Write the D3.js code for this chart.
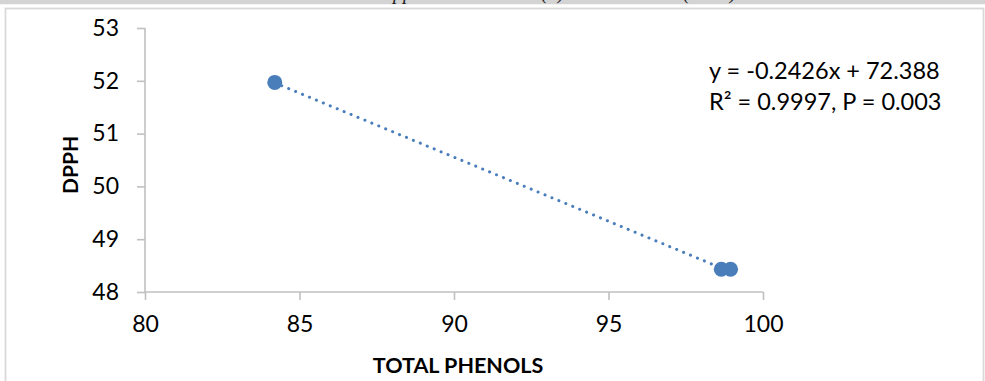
<!DOCTYPE html>
<html><head><meta charset="utf-8">
<script src="https://cdn.jsdelivr.net/npm/d3@7"></script>
<style>body{margin:0;background:#fff;}svg{display:block;}</style>
</head><body>
<svg id="c" width="985" height="381"></svg>
<script>
const totalPhenols = [84.2, 98.65, 98.95];
const dpph = [51.97, 48.43, 48.43];
const xTicks = [80, 85, 90, 95, 100];
const yTicks = [48, 49, 50, 51, 52, 53];
const slope = -0.2426, intercept = 72.388;
const eqLines = ["y = -0.2426x + 72.388", "R\u00b2 = 0.9997, P = 0.003"];
const topFragments = [["pp", 393], ["(a)", 541], ["(2019)", 683]];

const svg = d3.select("#c");
const col = "#4a7ebb", axisCol = "#c0c0c0", font = "Lato, 'Open Sans', sans-serif";

// header band & frame
svg.append("rect").attr("x",0).attr("y",0).attr("width",985).attr("height",4.5).attr("fill","#d4d4d4");
topFragments.forEach(([t,x]) => svg.append("text").attr("x",x).attr("y",-1.5)
  .attr("font-family","'Liberation Serif', serif").attr("font-style","italic").attr("font-size",20)
  .attr("fill","#222").text(t));
svg.append("rect").attr("x",0).attr("y",4.5).attr("width",985).attr("height",3).attr("fill","#fff");
svg.append("rect").attr("x",5.5).attr("y",8.5).attr("width",978).attr("height",380)
  .attr("fill","#fff").attr("stroke","#d9d9d9").attr("stroke-width",1.8);

const x = d3.scaleLinear().domain([80,100]).range([145,763]);
const y = d3.scaleLinear().domain([48,53]).range([292,28]);

const xAxis = svg.append("g").attr("transform","translate(0,292)")
  .call(d3.axisBottom(x).tickValues(xTicks).tickFormat(d3.format("d")).tickSize(8).tickPadding(8));
const yAxis = svg.append("g").attr("transform","translate(145,0)")
  .call(d3.axisLeft(y).tickValues(yTicks).tickFormat(d3.format("d")).tickSize(8).tickPadding(18));
[xAxis,yAxis].forEach(g=>{
  g.selectAll("path,line").attr("stroke",axisCol).attr("stroke-width",1.6);
  g.select(".domain").attr("d", g===xAxis ? "M145,0H763" : "M0,28V292");
  g.selectAll("text").attr("font-family",font).attr("font-size",23).attr("fill","#000");
});
xAxis.selectAll("text").attr("dy","1.05em");

// trendline
const x0 = d3.min(totalPhenols), x1 = d3.max(totalPhenols);
svg.append("line").attr("x1",x(x0)).attr("y1",y(slope*x0+intercept))
  .attr("x2",x(x1)).attr("y2",y(slope*x1+intercept))
  .attr("stroke",col).attr("stroke-width",3).attr("stroke-linecap","round")
  .attr("stroke-dasharray","0.1 7.4");

svg.append("g").selectAll("circle").data(totalPhenols).join("circle")
  .attr("cx",d=>x(d)).attr("cy",(d,i)=>y(dpph[i])).attr("r",7.5).attr("fill",col);

// equation
svg.append("g").selectAll("text").data(eqLines).join("text")
  .attr("x",709).attr("y",(d,i)=>79+i*31).attr("font-family",font).attr("font-size",23.5)
  .attr("fill","#000").text(d=>d);

// axis titles
svg.append("text").attr("x",458).attr("y",373).attr("text-anchor","middle")
  .attr("font-family",font).attr("font-weight","bold").attr("font-size",21.5).text("TOTAL PHENOLS");
svg.append("text").attr("transform","translate(78,165) rotate(-90)").attr("text-anchor","middle")
  .attr("font-family",font).attr("font-weight","bold").attr("font-size",21).text("DPPH");
</script>
</body></html>
